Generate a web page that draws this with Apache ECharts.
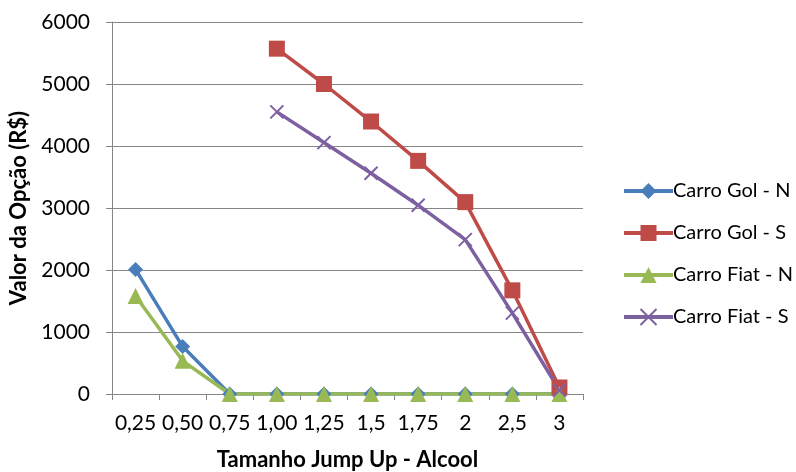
<!DOCTYPE html>
<html>
<head>
<meta charset="utf-8">
<script src="https://cdn.jsdelivr.net/npm/echarts@6/dist/echarts.min.js"></script>
<style>
html,body{margin:0;padding:0;background:#fff;}
#c{width:796px;height:472px;}
</style>
</head>
<body>
<div id="c"></div>
<script>
var categories = ['0,25','0,50','0,75','1,00','1,25','1,5','1,75','2','2,5','3'];
var seriesNames = ['Carro Gol - N','Carro Gol - S','Carro Fiat - N','Carro Fiat - S'];
var golN  = [2010, 765, 0, 0, 0, 0, 0, 0, 0, 0];
var golS  = [null, null, null, 5570, 5000, 4395, 3760, 3095, 1672, 105];
var fiatN = [1580, 535, 0, 0, 0, 0, 0, 0, 0, 0];
var fiatS = [null, null, null, 4550, 4055, 3560, 3045, 2490, 1305, 60];
var yTicks = [0, 1000, 2000, 3000, 4000, 5000, 6000];

var FONT = 'Lato';
var gray = '#868686';
var colors = ['#4a7ebb', '#be4b48', '#98b954', '#7d60a0'];
var symbols = [
  'path://M5,0L10,5L5,10L0,5Z',
  'rect',
  'triangle',
  'path://M0,0L10,10M10,0L0,10'
];
var sizes = [15, 16, 16, 13];
var datas = [golN, golS, fiatN, fiatS];

var chart = echarts.init(document.getElementById('c'));
var series = datas.map(function (d, i) {
  return {
    name: seriesNames[i],
    type: 'line',
    data: d,
    symbol: symbols[i],
    symbolSize: sizes[i],
    symbolKeepAspect: true,
    showAllSymbol: true,
    lineStyle: { color: colors[i], width: 3.5 },
    itemStyle: {
      color: colors[i],
      borderColor: colors[i],
      borderWidth: i === 3 ? 2 : 0
    },
    emphasis: { disabled: true },
    animation: false
  };
});

chart.setOption({
  animation: false,
  textStyle: { fontFamily: FONT },
  grid: { left: 112, right: 213, top: 22, bottom: 78, outerBoundsMode: 'none', containLabel: false },
  legend: {
    orient: 'vertical',
    left: 617,
    top: 176,
    itemWidth: 49,
    itemHeight: 20,
    itemGap: 22,
    data: seriesNames,
    lineStyle: { width: 4 },
    textStyle: { fontFamily: FONT, fontSize: 20, color: '#000', padding: [0, 0, 0, -5] }
  },
  xAxis: {
    type: 'category',
    data: categories,
    boundaryGap: true,
    name: 'Tamanho Jump Up - Alcool',
    nameLocation: 'middle',
    nameGap: 55,
    nameTextStyle: { fontFamily: FONT, fontSize: 22, fontWeight: 'bold', color: '#000' },
    axisLine: { lineStyle: { color: gray, width: 1 } },
    axisTick: { show: true, inside: false, length: 6, lineStyle: { color: gray } },
    axisLabel: { color: '#000', fontSize: 21, fontFamily: FONT, margin: 19, interval: 0 },
    splitLine: { show: false }
  },
  yAxis: {
    type: 'value',
    min: yTicks[0],
    max: yTicks[yTicks.length - 1],
    interval: 1000,
    name: 'Valor da Opção (R$)',
    nameLocation: 'middle',
    nameRotate: 90,
    nameGap: 79,
    nameTextStyle: { fontFamily: FONT, fontSize: 22, fontWeight: 'bold', color: '#000' },
    axisLine: { show: true, lineStyle: { color: gray, width: 1 } },
    axisTick: { show: true, inside: false, length: 6, lineStyle: { color: gray } },
    axisLabel: {
      color: '#000', fontSize: 21, fontFamily: FONT, margin: 22,
      formatter: function (v) { return String(v); }
    },
    splitLine: { show: true, lineStyle: { color: gray, width: 1 } }
  },
  series: series
});
</script>
</body>
</html>
